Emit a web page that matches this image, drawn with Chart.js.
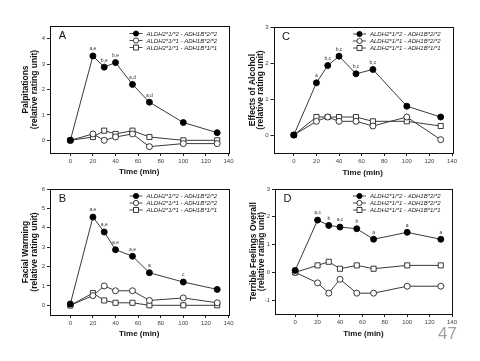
<!DOCTYPE html>
<html><head><meta charset="utf-8">
<script src="https://cdn.jsdelivr.net/npm/chart.js@4.4.1/dist/chart.umd.min.js"></script>
<style>
html,body{margin:0;padding:0;background:#fff;width:480px;height:361px;overflow:hidden;position:relative;}
.c{position:absolute;}
#pn{position:absolute;left:438px;top:324px;font:17px "Liberation Sans",Arial,sans-serif;color:#a0a0a0;}
</style></head>
<body>
<div class="c" style="left:0;top:0;width:240px;height:180px"><canvas id="cA"></canvas></div>
<div class="c" style="left:240px;top:0;width:240px;height:180px"><canvas id="cC"></canvas></div>
<div class="c" style="left:0;top:180px;width:240px;height:181px"><canvas id="cB"></canvas></div>
<div class="c" style="left:240px;top:180px;width:240px;height:181px"><canvas id="cD"></canvas></div>
<div id="pn">47</div>
<script>
const times = [0, 20, 30, 40, 55, 70, 100, 130];
const xTicks = [0, 20, 40, 60, 80, 100, 120, 140];
const seriesNames = ['ALDH2*1/*2 - ADH1B*2/*2', 'ALDH2*1/*1 - ADH1B*2/*2', 'ALDH2*1/*1 - ADH1B*1/*1'];

const palp_12_22 = [0, 3.32, 2.88, 3.06, 2.2, 1.5, 0.7, 0.3];
const palp_11_22 = [0, 0.25, 0, 0.13, 0.25, -0.25, -0.13, -0.13];
const palp_11_11 = [0, 0.13, 0.38, 0.25, 0.38, 0.13, 0, 0];
const palpNotes = ['', 'a,e', 'b,e', 'b,e', 'a,d', 'a,d', '', ''];
const palpTicks = [0, 1, 2, 3, 4];

const face_12_22 = [0.07, 4.55, 3.78, 2.87, 2.53, 1.68, 1.2, 0.82];
const face_11_22 = [0, 0.5, 1.0, 0.75, 0.75, 0.25, 0.38, 0.13];
const face_11_11 = [0, 0.63, 0.25, 0.13, 0.13, 0, 0, 0];
const faceNotes = ['', 'a,e', 'a,e', 'a,e', 'a,e', 'a', 'c', ''];
const faceTicks = [0, 1, 2, 3, 4, 5, 6];

const eff_12_22 = [0, 1.45, 1.93, 2.19, 1.7, 1.82, 0.8, 0.5];
const eff_11_22 = [0, 0.38, 0.5, 0.38, 0.38, 0.25, 0.5, -0.13];
const eff_11_11 = [0, 0.5, 0.5, 0.5, 0.5, 0.38, 0.38, 0.25];
const effNotes = ['', 'a', 'b,c', 'b,c', 'b,c', 'b,c', '', ''];
const effTicks = [0, 1, 2, 3];

const terr_12_22 = [0.07, 1.88, 1.69, 1.63, 1.57, 1.19, 1.44, 1.19];
const terr_11_22 = [0, -0.38, -0.75, -0.25, -0.75, -0.75, -0.5, -0.5];
const terr_11_11 = [0, 0.25, 0.38, 0.13, 0.25, 0.13, 0.25, 0.25];
const terrNotes = ['', 'a,c', 'b', 'a,c', 'b', 'a', 'a', 'a'];
const terrTicks = [-1, 0, 1, 2, 3];

const FONT = '"Liberation Sans", Arial, sans-serif';
const LINE = '#3a3a3a';

const styles = [
  {pointStyle: 'circle', radius: 3, bg: '#000', border: '#000'},
  {pointStyle: 'circle', radius: 3, bg: '#fff', border: '#222'},
  {pointStyle: 'rect', radius: 3.6, bg: '#fff', border: '#222'}
];

function pts(arr) { return times.map((t, i) => ({x: t, y: arr[i]})); }

const framePlugin = {
  id: 'frame',
  afterDraw(chart, args, opts) {
    const {ctx, chartArea: a} = chart;
    ctx.save();
    ctx.strokeStyle = '#111';
    ctx.lineWidth = 1;
    ctx.strokeRect(Math.round(a.left) + 0.5, Math.round(a.top) + 0.5, Math.round(a.right - a.left), Math.round(a.bottom - a.top));
    // panel letter
    ctx.fillStyle = '#111';
    ctx.font = '11px ' + FONT;
    ctx.textAlign = 'center';
    ctx.textBaseline = 'middle';
    ctx.fillText(opts.letter, a.left + 12.5, a.top + 9.5);
    // notes over filled series
    const meta = chart.getDatasetMeta(0);
    ctx.font = '5px ' + FONT;
    ctx.fillStyle = '#333';
    opts.notes.forEach((n, i) => {
      if (!n) return;
      const p = meta.data[i];
      ctx.fillText(n, p.x, p.y - 7);
    });
    // legend
    ctx.font = 'italic 6px ' + FONT;
    ctx.textAlign = 'left';
    seriesNames.forEach((name, i) => {
      const y = a.top + opts.legTop + i * 7;
      const x0 = a.right - 99, x1 = a.right - 86;
      ctx.strokeStyle = LINE;
      ctx.lineWidth = 0.9;
      ctx.beginPath(); ctx.moveTo(x0, y); ctx.lineTo(x1, y); ctx.stroke();
      const s = styles[i];
      const cx = (x0 + x1) / 2;
      ctx.fillStyle = s.bg; ctx.strokeStyle = s.border; ctx.lineWidth = 0.9;
      ctx.beginPath();
      if (s.pointStyle === 'circle') ctx.arc(cx, y, 2.6, 0, Math.PI * 2);
      else ctx.rect(cx - 2.5, y - 2.5, 5, 5);
      ctx.fill(); ctx.stroke();
      ctx.fillStyle = '#222';
      ctx.fillText(name, a.right - 82, y + 0.5);
    });
    ctx.restore();
  }
};

function makeChart(id, cfg) {
  const datasets = [cfg.s1, cfg.s2, cfg.s3].map((arr, i) => ({
    label: seriesNames[i],
    data: pts(arr),
    showLine: true,
    borderColor: LINE,
    borderWidth: 1,
    pointStyle: styles[i].pointStyle,
    pointRadius: styles[i].radius,
    pointBackgroundColor: styles[i].bg,
    pointBorderColor: styles[i].border,
    pointBorderWidth: 0.9,
    tension: 0
  }));
  new Chart(document.getElementById(id), {
    type: 'scatter',
    data: {datasets},
    plugins: [framePlugin],
    options: {
      responsive: true,
      maintainAspectRatio: false,
      animation: false,
      events: [],
      layout: {padding: {top: cfg.area.top, right: cfg.W - cfg.area.right, left: 0, bottom: 0}},
      plugins: {
        legend: {display: false},
        tooltip: {enabled: false},
        frame: {letter: cfg.letter, notes: cfg.notes, legTop: cfg.legTop}
      },
      scales: {
        x: {
          type: 'linear', min: -18, max: 140,
          afterBuildTicks: s => { s.ticks = xTicks.map(v => ({value: v})); },
          afterFit: s => { s.height = cfg.H - cfg.area.bottom; },
          grid: {display: true, drawOnChartArea: false, drawTicks: true, tickLength: 3, color: '#222'},
          border: {display: false},
          ticks: {font: {size: 6, family: FONT}, color: '#444', padding: 2, maxRotation: 0, autoSkip: false},
          title: {display: true, text: 'Time (min)', font: {size: 8, weight: 'bold', family: FONT, lineHeight: 1.1}, color: '#111', padding: {top: 0, bottom: cfg.xTitlePad}}
        },
        y: {
          type: 'linear', min: cfg.yMin, max: cfg.yMax,
          afterBuildTicks: s => { s.ticks = cfg.yTicks.map(v => ({value: v})); },
          afterFit: s => { s.width = cfg.area.left; },
          grid: {display: true, drawOnChartArea: false, drawTicks: true, tickLength: 3, color: '#222'},
          border: {display: false},
          ticks: {font: {size: 6, family: FONT}, color: '#444', padding: 2},
          title: {display: true, text: cfg.yTitle, font: {size: 8.5, weight: 'bold', family: FONT, lineHeight: 1.0}, color: '#111', padding: {top: cfg.yTitlePad, bottom: 0}}
        }
      }
    }
  });
}

makeChart('cA', {W: 240, H: 180, area: {left: 50, top: 26, right: 228.5, bottom: 153},
  s1: palp_12_22, s2: palp_11_22, s3: palp_11_11, notes: palpNotes, letter: 'A',
  yMin: -0.5, yMax: 4.5, yTicks: palpTicks, yTitle: ['Palpitations', '(relative rating unit)'],
  yTitlePad: 21.5, xTitlePad: 3.5, legTop: 7.5});
makeChart('cC', {W: 240, H: 180, area: {left: 33.5, top: 27, right: 212, bottom: 153},
  s1: eff_12_22, s2: eff_11_22, s3: eff_11_11, notes: effNotes, letter: 'C',
  yMin: -0.5, yMax: 3, yTicks: effTicks, yTitle: ['Effects of Alcohol', '(relative rating unit)'],
  yTitlePad: 8, xTitlePad: 3, legTop: 7});
makeChart('cB', {W: 240, H: 181, area: {left: 50, top: 9, right: 228.5, bottom: 135},
  s1: face_12_22, s2: face_11_22, s3: face_11_11, notes: faceNotes, letter: 'B',
  yMin: -0.5, yMax: 6, yTicks: faceTicks, yTitle: ['Facial Warming', '(relative rating unit)'],
  yTitlePad: 21.5, xTitlePad: 22.5, legTop: 7});
makeChart('cD', {W: 240, H: 181, area: {left: 35, top: 9, right: 212, bottom: 134},
  s1: terr_12_22, s2: terr_11_22, s3: terr_11_11, notes: terrNotes, letter: 'D',
  yMin: -1.5, yMax: 3, yTicks: terrTicks, yTitle: ['Terrible Feelings Overall', '(relative rating unit)'],
  yTitlePad: 9, xTitlePad: 22.5, legTop: 7});
</script>
</body></html>
